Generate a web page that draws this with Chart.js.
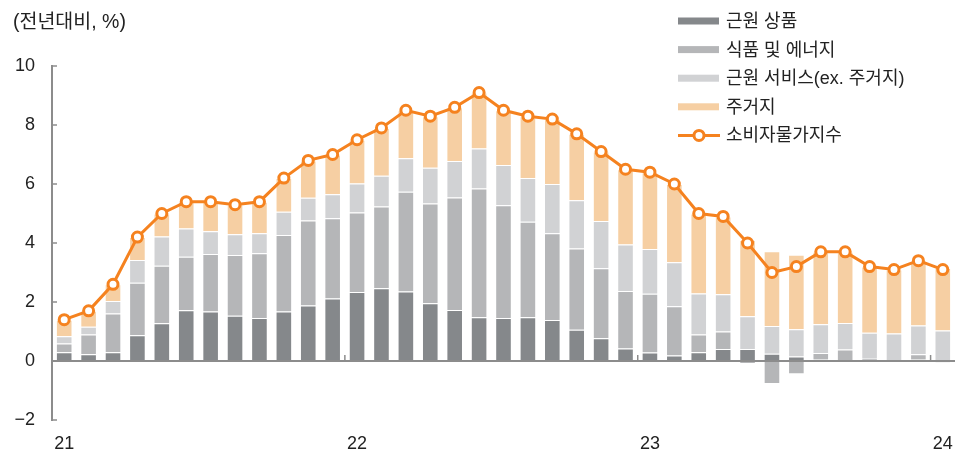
<!DOCTYPE html>
<html lang="ko">
<head>
<meta charset="UTF-8">
<title>소비자물가지수 기여도</title>
<script src="https://cdn.jsdelivr.net/npm/chart.js"></script>
<style>
    html, body { margin: 0; padding: 0; background: #fff; }
    .wrap { position: relative; width: 967px; height: 454px; }
</style>
</head>
<body>
<div class="wrap"><canvas id="cpiChart"></canvas></div>
<script>
    // 월별 (21.01 ~ 24.01)
    const months = [
        '21.01','21.02','21.03','21.04','21.05','21.06','21.07','21.08','21.09','21.10','21.11','21.12',
        '22.01','22.02','22.03','22.04','22.05','22.06','22.07','22.08','22.09','22.10','22.11','22.12',
        '23.01','23.02','23.03','23.04','23.05','23.06','23.07','23.08','23.09','23.10','23.11','23.12',
        '24.01'
    ];
    const coreGoods = [0.30,0.23,0.30,0.87,1.28,1.72,1.68,1.53,1.46,1.68,1.88,2.12,
                       2.34,2.47,2.36,1.96,1.73,1.48,1.46,1.48,1.39,1.06,0.77,0.42,
                       0.29,0.19,0.30,0.41,0.41,0.25,0.15,0.05,0.00,0.00,0.00,0.05,
                       0.00];
    const foodEnergy = [0.29,0.67,1.31,1.78,1.95,1.81,1.95,2.06,2.19,2.59,2.88,2.72,
                        2.69,2.77,3.38,3.38,3.81,4.37,3.82,3.24,2.94,2.75,2.37,1.95,
                        1.99,1.67,0.60,0.59,-0.10,-0.78,-0.45,0.22,0.39,0.08,0.00,0.18,
                        -0.05];
    const coreServices = [0.25,0.26,0.42,0.77,0.99,0.96,0.77,0.71,0.68,0.79,0.77,0.81,
                          0.99,1.04,1.13,1.21,1.24,1.35,1.36,1.48,1.67,1.64,1.61,1.58,
                          1.52,1.49,1.39,1.26,1.11,0.94,0.93,0.98,0.90,0.88,0.93,0.97,
                          1.03];
    const shelter = [0.56,0.54,0.57,0.78,0.78,0.91,1.00,1.00,1.07,1.14,1.27,1.35,
                     1.48,1.62,1.63,1.75,1.82,1.90,1.86,2.10,2.20,2.25,2.35,2.55,
                     2.60,2.65,2.71,2.64,2.58,2.53,2.52,2.45,2.41,2.24,2.17,2.20,
                     2.12];
    const cpi = [1.4,1.7,2.6,4.2,5.0,5.4,5.4,5.3,5.4,6.2,6.8,7.0,
                 7.5,7.9,8.5,8.3,8.6,9.1,8.5,8.3,8.2,7.7,7.1,6.5,
                 6.4,6.0,5.0,4.9,4.0,3.0,3.2,3.7,3.7,3.2,3.1,3.4,
                 3.1];
    const yTicks = [-2, 0, 2, 4, 6, 8, 10];
    const seriesNames = ['근원 상품', '식품 및 에너지', '근원 서비스(ex. 주거지)', '주거지', '소비자물가지수'];
    const unitLabel = '(전년대비, %)';

    const FONT = "'Liberation Sans', 'Noto Sans CJK KR', sans-serif";
    const TEXT = '#222';
    const AXIS = '#8c8c8c';
    const ORANGE = '#f5821f';

    Chart.defaults.font.family = FONT;

    // 단위, 범례, 안쪽 눈금
    const extras = {
        id: 'extras',
        afterDraw(chart) {
            const ctx = chart.ctx;
            const xs = chart.scales.x, ys = chart.scales.y;
            ctx.save();

            // y축 안쪽 눈금
            ctx.strokeStyle = AXIS;
            ctx.lineWidth = 1.5;
            yTicks.forEach(v => {
                const y = ys.getPixelForValue(v);
                ctx.beginPath();
                ctx.moveTo(xs.left, y);
                ctx.lineTo(xs.left + 5, y);
                ctx.stroke();
            });
            // 연도 경계 눈금
            const zeroY = ys.getPixelForValue(0);
            months.forEach((m, i) => {
                if (i > 0 && m.endsWith('.01')) {
                    const x = (xs.getPixelForValue(i - 1) + xs.getPixelForValue(i)) / 2;
                    ctx.beginPath();
                    ctx.moveTo(x, zeroY);
                    ctx.lineTo(x, zeroY - 6);
                    ctx.stroke();
                }
            });

            // 단위
            ctx.fillStyle = TEXT;
            ctx.font = '19.5px ' + FONT;
            ctx.textBaseline = 'middle';
            ctx.textAlign = 'left';
            ctx.fillText(unitLabel, 13, 23);

            // 범례
            const lx = 678, ly = 21, rowH = 28.6;
            chart.data.datasets.forEach((ds, i) => {
                const y = ly + i * rowH;
                if (ds.type === 'line') {
                    ctx.strokeStyle = ORANGE;
                    ctx.lineWidth = 3;
                    ctx.beginPath();
                    ctx.moveTo(lx, y);
                    ctx.lineTo(lx + 42, y);
                    ctx.stroke();
                    ctx.beginPath();
                    ctx.arc(lx + 21, y, 5, 0, Math.PI * 2);
                    ctx.fillStyle = '#fff';
                    ctx.fill();
                    ctx.stroke();
                } else {
                    ctx.fillStyle = ds.backgroundColor;
                    ctx.fillRect(lx, y - 3.5, 41, 7);
                }
                ctx.fillStyle = TEXT;
                ctx.font = '18px ' + FONT;
                ctx.fillText(ds.label, lx + 48, y + 1);
            });
            ctx.restore();
        }
    };

    const barStyle = {
        type: 'bar',
        order: 1,
        borderColor: '#fff',
        borderWidth: 1,
        barPercentage: 0.68,
        categoryPercentage: 1
    };

    new Chart(document.getElementById('cpiChart'), {
        data: {
            labels: months,
            datasets: [
                { ...barStyle, label: seriesNames[0], data: coreGoods, backgroundColor: '#85888b' },
                { ...barStyle, label: seriesNames[1], data: foodEnergy, backgroundColor: '#b5b6b8' },
                { ...barStyle, label: seriesNames[2], data: coreServices, backgroundColor: '#d1d2d4' },
                { ...barStyle, label: seriesNames[3], data: shelter, backgroundColor: '#f6cfa3' },
                {
                    type: 'line',
                    order: 0,
                    label: seriesNames[4],
                    data: cpi,
                    borderColor: ORANGE,
                    borderWidth: 3,
                    pointRadius: 5,
                    pointBorderWidth: 3,
                    pointBackgroundColor: '#fff',
                    pointBorderColor: ORANGE,
                    tension: 0
                }
            ]
        },
        options: {
            responsive: true,
            maintainAspectRatio: false,
            animation: false,
            layout: { padding: { top: 66, right: 12, left: 0, bottom: 0 } },
            plugins: {
                legend: { display: false },
                tooltip: { enabled: false }
            },
            scales: {
                x: {
                    stacked: true,
                    grid: { display: false },
                    border: { display: false },
                    ticks: {
                        autoSkip: false,
                        maxRotation: 0,
                        padding: 5,
                        color: TEXT,
                        font: { size: 18 },
                        callback: (v, i) => months[i].endsWith('.01') ? months[i].slice(0, 2) : ''
                    },
                    afterFit(scale) { scale.height = 34; }
                },
                y: {
                    stacked: true,
                    min: -2,
                    max: 10,
                    ticks: {
                        stepSize: 2,
                        padding: 17,
                        color: TEXT,
                        font: { size: 18 },
                        callback: v => String(v).replace('-', '−')
                    },
                    grid: {
                        drawTicks: false,
                        lineWidth: 2,
                        color: c => c.tick && c.tick.value === 0 ? AXIS : 'rgba(0,0,0,0)'
                    },
                    border: { color: AXIS, width: 2 },
                    afterFit(scale) { scale.width = 52; }
                }
            }
        },
        plugins: [extras]
    });
</script>
</body>
</html>
